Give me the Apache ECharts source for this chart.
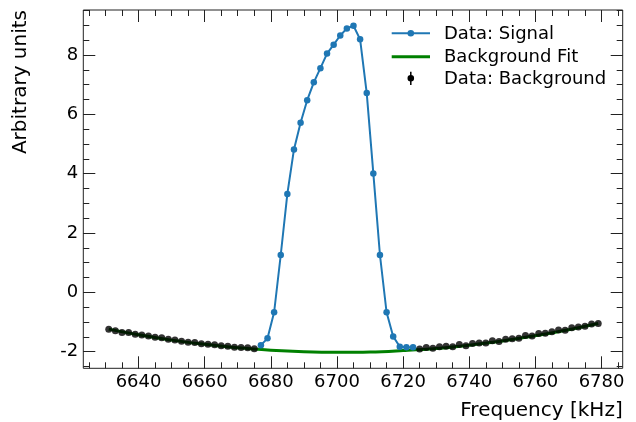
<!DOCTYPE html>
<html>
<head>
<meta charset="utf-8">
<script src="https://cdn.jsdelivr.net/npm/echarts@6/dist/echarts.min.js"></script>
<style>
html,body{margin:0;padding:0;background:#fff;}
#c{width:636px;height:422px;}
</style>
</head>
<body>
<div id="c"></div>
<script>
// ---- data ----
var bgX = [6631,6633,6635,6637,6639,6641,6643,6645,6647,6649,6651,6653,6655,6657,6659,6661,6663,6665,6667,6669,6671,6673,6675,
           6725,6727,6729,6731,6733,6735,6737,6739,6741,6743,6745,6747,6749,6751,6753,6755,6757,6759,6761,6763,6765,6767,6769,6771,6773,6775,6777,6779];
var bgY = [-1.24,-1.29,-1.35,-1.35,-1.41,-1.44,-1.47,-1.51,-1.53,-1.58,-1.61,-1.65,-1.68,-1.69,-1.73,-1.75,-1.77,-1.80,-1.82,-1.85,-1.86,-1.87,-1.90,
           -1.91,-1.86,-1.88,-1.83,-1.82,-1.83,-1.76,-1.80,-1.72,-1.71,-1.71,-1.63,-1.66,-1.58,-1.56,-1.55,-1.45,-1.47,-1.39,-1.38,-1.33,-1.27,-1.28,-1.19,-1.17,-1.14,-1.07,-1.05];
var sigX = [6677,6679,6681,6683,6685,6687,6689,6691,6693,6695,6697,6699,6701,6703,6705,6707,6709,6711,6713,6715,6717,6719,6721,6723];
var sigY = [-1.78,-1.55,-0.67,1.26,3.32,4.82,5.72,6.48,7.08,7.56,8.05,8.35,8.66,8.90,8.99,8.53,6.72,4.01,1.26,-0.67,-1.49,-1.83,-1.85,-1.85];
var fitX = [6631,6640,6650,6660,6670,6680,6690,6700,6710,6720,6730,6740,6750,6760,6770,6779];
var fitY = [-1.24,-1.43,-1.61,-1.75,-1.87,-1.95,-2.00,-2.02,-2.01,-1.96,-1.89,-1.78,-1.64,-1.46,-1.26,-1.05];
var xTickLabels = [6640,6660,6680,6700,6720,6740,6760,6780];
var yTickLabels = [-2,0,2,4,6,8];
var seriesNames = ['Data: Signal','Background Fit','Data: Background'];
var xTitle = 'Frequency [kHz]';
var yTitle = 'Arbitrary units';

// ---- layout ----
var W = 636, H = 422;
var L = 83.3, R = 622.7, T = 10, B = 368.3;
var XMIN = 6623.3, XMAX = 6786.4, YMIN = -2.56, YMAX = 9.52;
function xPix(v){ return L + (v - XMIN) / (XMAX - XMIN) * (R - L); }
function yPix(v){ return B - (v - YMIN) / (YMAX - YMIN) * (B - T); }

var FONT = 'DejaVu Sans';
var AX = '#222';
var MAJ = 12, MIN = 6;

function pairs(xs, ys){ return xs.map(function(x,i){ return [x, ys[i]]; }); }
function plain(v){ return String(v); }

var xMajMin = xTickLabels[0], xMajMax = xTickLabels[xTickLabels.length-1];
var yMajMin = yTickLabels[0], yMajMax = yTickLabels[yTickLabels.length-1];
var xMinorMin = 6625, xMinorMax = 6785, yMinorMin = -2.5, yMinorMax = 9.5;

var grids = [
  {left:L, right:W-R, top:T, bottom:H-B, show:true, borderColor:AX, borderWidth:1, backgroundColor:'transparent'},
  {left:xPix(xMajMin), right:W-xPix(xMajMax), top:T, bottom:H-B},
  {left:xPix(xMinorMin), right:W-xPix(xMinorMax), top:T, bottom:H-B},
  {left:L, right:W-R, top:yPix(yMajMax), bottom:H-yPix(yMajMin)},
  {left:L, right:W-R, top:yPix(yMinorMax), bottom:H-yPix(yMinorMin)}
];

function hiddenAx(g){ return {type:'value', gridIndex:g, show:false, min:0, max:1}; }
function tickAx(g, pos, mn, mx, iv, len, labels){
  return {type:'value', gridIndex:g, position:pos, min:mn, max:mx, interval:iv,
    axisLine:{show:false}, splitLine:{show:false},
    axisTick:{show:true, inside:true, length:len, lineStyle:{color:AX, width:1}},
    axisLabel:{show:labels, fontSize:18, fontFamily:FONT, color:'#000', margin:5, formatter:plain}};
}

var xAxes = [
  {type:'value', gridIndex:0, min:XMIN, max:XMAX, show:false},
  tickAx(1,'bottom',xMajMin,xMajMax,20,MAJ,true),
  tickAx(1,'top',xMajMin,xMajMax,20,MAJ,false),
  tickAx(2,'bottom',xMinorMin,xMinorMax,5,MIN,false),
  tickAx(2,'top',xMinorMin,xMinorMax,5,MIN,false),
  hiddenAx(3), hiddenAx(4)
];
var yAxes = [
  {type:'value', gridIndex:0, min:YMIN, max:YMAX, show:false},
  hiddenAx(1), hiddenAx(2),
  tickAx(3,'left',yMajMin,yMajMax,2,MAJ,true),
  tickAx(3,'right',yMajMin,yMajMax,2,MAJ,false),
  tickAx(4,'left',yMinorMin,yMinorMax,0.5,MIN,false),
  tickAx(4,'right',yMinorMin,yMinorMax,0.5,MIN,false)
];

var BLUE = '#1f77b4', GREEN = '#008000';
var lg = [
  {type:'line', shape:{x1:391.7,y1:33.3,x2:430,y2:33.3}, style:{stroke:BLUE, lineWidth:2}},
  {type:'circle', shape:{cx:410.8,cy:33.3,r:3.3}, style:{fill:BLUE}},
  {type:'line', shape:{x1:391.7,y1:56.7,x2:430,y2:56.7}, style:{stroke:GREEN, lineWidth:3}},
  {type:'line', shape:{x1:410.8,y1:71.7,x2:410.8,y2:85}, style:{stroke:'#000', lineWidth:1.5}},
  {type:'circle', shape:{cx:410.8,cy:78.3,r:3.3}, style:{fill:'#000'}},
  {type:'text', x:444, y:34, style:{text:seriesNames[0], fontSize:18, fontFamily:FONT, fill:'#000', verticalAlign:'middle', align:'left'}},
  {type:'text', x:444, y:57.4, style:{text:seriesNames[1], fontSize:18, fontFamily:FONT, fill:'#000', verticalAlign:'middle', align:'left'}},
  {type:'text', x:444, y:79, style:{text:seriesNames[2], fontSize:18, fontFamily:FONT, fill:'#000', verticalAlign:'middle', align:'left'}},
  {type:'text', x:R, y:411, style:{text:xTitle, fontSize:20, fontFamily:FONT, fill:'#000', verticalAlign:'middle', align:'right'}},
  {type:'text', x:20.7, y:T, rotation:Math.PI/2, style:{text:yTitle, fontSize:20, fontFamily:FONT, fill:'#000', verticalAlign:'middle', align:'right'}}
];

var chart = echarts.init(document.getElementById('c'), null, {renderer:'canvas'});
chart.setOption({
  animation:false,
  backgroundColor:'#fff',
  grid:grids,
  xAxis:xAxes,
  yAxis:yAxes,
  series:[
    {name:seriesNames[1], type:'line', xAxisIndex:0, yAxisIndex:0, data:pairs(fitX, fitY), smooth:0.4, showSymbol:false, symbol:'none',
     lineStyle:{color:GREEN, width:3}, itemStyle:{color:GREEN}, z:2},
    {name:seriesNames[0], type:'line', xAxisIndex:0, yAxisIndex:0, data:pairs(sigX, sigY), symbol:'circle', symbolSize:6.5,
     lineStyle:{color:BLUE, width:2}, itemStyle:{color:BLUE}, z:3},
    {name:seriesNames[2], type:'scatter', xAxisIndex:0, yAxisIndex:0, data:pairs(bgX, bgY), symbol:'circle', symbolSize:7,
     itemStyle:{color:'#000'}, z:4}
  ],
  graphic:lg
});
</script>
</body>
</html>
